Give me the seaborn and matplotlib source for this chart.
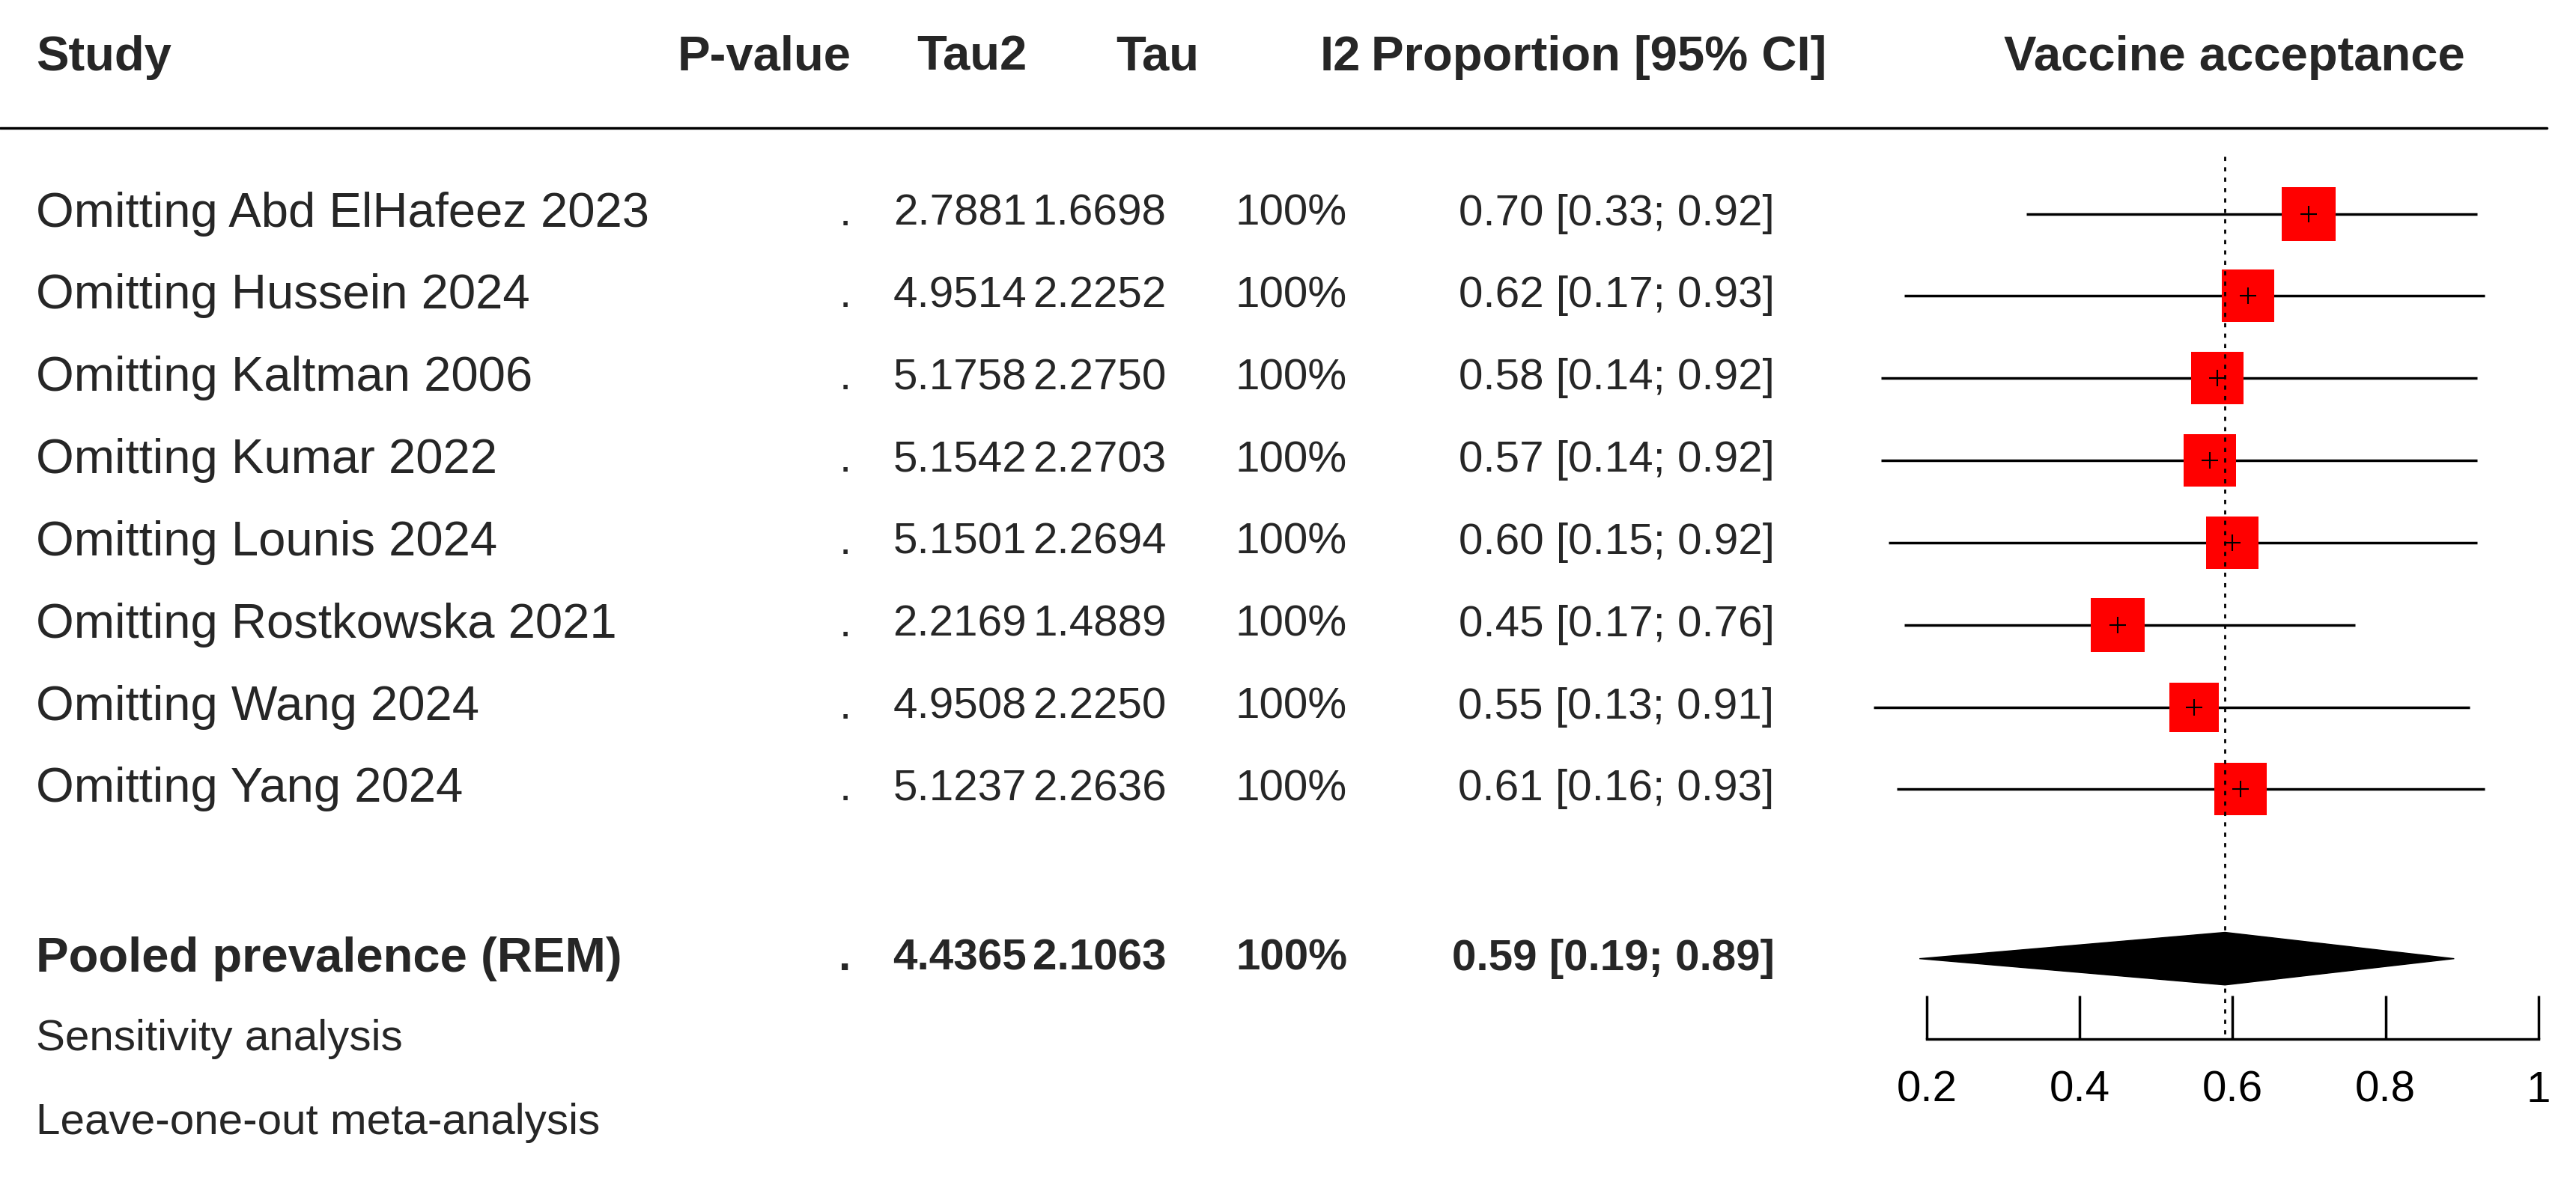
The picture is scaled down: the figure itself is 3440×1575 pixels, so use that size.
import matplotlib
matplotlib.use("Agg")
import matplotlib.pyplot as plt
import seaborn as sns
import numpy as np
from matplotlib.lines import Line2D

sns.set_theme(style="white")
plt.rcParams['font.family'] = ['Liberation Sans', 'DejaVu Sans']

studies = ["Omitting Abd ElHafeez 2023", "Omitting Hussein 2024", "Omitting Kaltman 2006",
           "Omitting Kumar 2022", "Omitting Lounis 2024", "Omitting Rostkowska 2021",
           "Omitting Wang 2024", "Omitting Yang 2024"]
tau2 = ["2.7881", "4.9514", "5.1758", "5.1542", "5.1501", "2.2169", "4.9508", "5.1237"]
tau = ["1.6698", "2.2252", "2.2750", "2.2703", "2.2694", "1.4889", "2.2250", "2.2636"]
i2 = ["100%"] * 8
prop = [0.70, 0.62, 0.58, 0.57, 0.60, 0.45, 0.55, 0.61]
lower = [0.33, 0.17, 0.14, 0.14, 0.15, 0.17, 0.13, 0.16]
upper = [0.92, 0.93, 0.92, 0.92, 0.92, 0.76, 0.91, 0.93]
sq_size = [52, 50, 51, 51, 51, 52, 48, 50]
pooled = {"label": "Pooled prevalence (REM)", "tau2": "4.4365", "tau": "2.1063", "i2": "100%",
          "est": 0.59, "lo": 0.19, "hi": 0.89}
xticks = [0.2, 0.4, 0.6, 0.8, 1.0]
xticklabels = ["0.2", "0.4", "0.6", "0.8", "1"]

W, H = 1568, 717
fig = plt.figure(figsize=(34.4, 15.75), dpi=100)
fs = 42
fl = 47  # label / header size

def fx(px): return px / W
def fy(py): return 1 - py / H

# headers
hy = fy(35)
fig.text(fx(22), hy, "Study", fontsize=fl, fontweight="bold", va="center", ha="left")
fig.text(fx(518), hy, "P-value", fontsize=fl, fontweight="bold", va="center", ha="right")
fig.text(fx(625), hy, "Tau2", fontsize=fl, fontweight="bold", va="center", ha="right")
fig.text(fx(730), hy, "Tau", fontsize=fl, fontweight="bold", va="center", ha="right")
fig.text(fx(828), hy, "I2", fontsize=fl, fontweight="bold", va="center", ha="right")
fig.text(fx(1112), hy, "Proportion [95% CI]", fontsize=fl, fontweight="bold", va="center", ha="right")
fig.text(fx(1360), hy, "Vaccine acceptance", fontsize=fl, fontweight="bold", va="center", ha="center")
fig.add_artist(Line2D([fx(0), fx(1550)], [fy(78), fy(78)], color="black", lw=2.5))

for i, s in enumerate(studies):
    y = fy(130 + 50 * i)
    fig.text(fx(22), y, s, fontsize=fl, va="center", ha="left")
    fig.text(fx(518), y, ".", fontsize=fs, va="center", ha="right")
    fig.text(fx(625), y, tau2[i], fontsize=fs, va="center", ha="right")
    fig.text(fx(710), y, tau[i], fontsize=fs, va="center", ha="right")
    fig.text(fx(820), y, i2[i], fontsize=fs, va="center", ha="right")
    fig.text(fx(1080), y, f"{prop[i]:.2f} [{lower[i]:.2f}; {upper[i]:.2f}]", fontsize=fs, va="center", ha="right")

y = fy(583)
fig.text(fx(22), y, pooled["label"], fontsize=fl, fontweight="bold", va="center", ha="left")
fig.text(fx(518), y, ".", fontsize=fs, fontweight="bold", va="center", ha="right")
fig.text(fx(625), y, pooled["tau2"], fontsize=fs, fontweight="bold", va="center", ha="right")
fig.text(fx(710), y, pooled["tau"], fontsize=fs, fontweight="bold", va="center", ha="right")
fig.text(fx(820), y, pooled["i2"], fontsize=fs, fontweight="bold", va="center", ha="right")
fig.text(fx(1080), y, f"{pooled['est']:.2f} [{pooled['lo']:.2f}; {pooled['hi']:.2f}]",
         fontsize=fs, fontweight="bold", va="center", ha="right")
fig.text(fx(22), fy(632), "Sensitivity analysis", fontsize=42, va="center", ha="left")
fig.text(fx(22), fy(683), "Leave-one-out meta-analysis", fontsize=42, va="center", ha="left")

# forest axes
unit = (fx(1545) - fx(1173)) / 0.8
xmin, xmax = 0.1, 1.02
left = fx(1173) - (0.2 - xmin) * unit
ax = fig.add_axes([left, fy(632), (xmax - xmin) * unit, (632 - 80) / H])
ax.set_xlim(xmin, xmax)
ax.set_ylim(11.04, 0)
rows = np.arange(1, 9)
ax.hlines(rows, lower, upper, color="black", lw=2.5)
for r, p, s in zip(rows, prop, sq_size):
    ax.plot(p, r, marker="s", color="red", markersize=s, markeredgewidth=0)
    ax.plot(p, r, marker="+", color="black", markersize=16, markeredgewidth=1.5)
yp = 10.06
ax.fill([pooled["lo"], pooled["est"], pooled["hi"], pooled["est"]],
        [yp, yp - 0.32, yp, yp + 0.32], color="black")
ax.vlines(pooled["est"], 0.3, 11.04, color="black", lw=2, linestyles=(0, (2, 3)))
for sp in ["top", "right", "left"]:
    ax.spines[sp].set_visible(False)
ax.spines["bottom"].set_bounds(0.2, 1.0)
ax.spines["bottom"].set_linewidth(2.5)
ax.spines["bottom"].set_color("black")
ax.set_yticks([])
ax.set_xticks(xticks)
ax.set_xticklabels(xticklabels, fontsize=fs)
ax.tick_params(axis="x", direction="in", length=42, width=2.5, pad=30, colors="black", bottom=True)
ax.patch.set_alpha(0)

fig.savefig("out.png", dpi=100)
